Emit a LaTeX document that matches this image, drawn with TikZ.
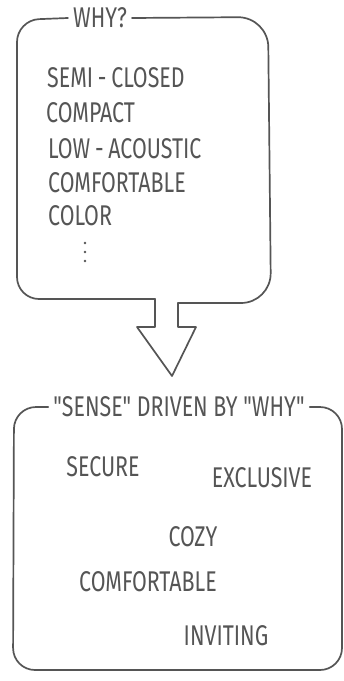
\documentclass[tikz,border=0pt]{standalone}
\usepackage{fontspec}
\newfontfamily\handfont[FakeStretch=0.75]{Fira Sans}
\definecolor{pencil}{HTML}{555555}
\begin{document}
\begin{tikzpicture}[x=1pt, y=-1pt, line join=round, line cap=round,
    pencil line/.style={draw=pencil, line width=1.7pt, rounded corners=22pt},
    word/.style={text=pencil, font=\handfont\fontsize{28.5}{28.5}\selectfont, inner sep=1pt},
    title/.style={word, inner sep=5pt}]
    \useasboundingbox[fill=white] (0,0) rectangle (344,681);

    % why box
    \node[title] (why) at (100,18) {WHY?};
    \node[word, anchor=base west] (semi) at (46,87) {SEMI\,-\,CLOSED};
    \node[word, anchor=base west] (compact) at (45,122) {COMPACT};
    \node[word, anchor=base west] (low) at (47,158) {LOW\,-\,ACOUSTIC};
    \node[word, anchor=base west] (comfy) at (47,192) {COMFORTABLE};
    \node[word, anchor=base west] (color) at (47,225) {COLOR};
    \foreach \y in {243,252,261}
        \fill[pencil] (85,\y) circle (1.3pt);

    \draw[pencil line] (why.west) -- (17,20) -- (17,299) -- (155,299);
    \draw[pencil line, rounded corners=30pt] (why.east) -- (268,17) -- (271,303) -- (178,303);
    \draw[pencil line, sharp corners] (155,299) -- (155,327) -- (137,327) -- (172,376)
        -- (196,327) -- (178,327) -- (178,303);

    % sense box
    \node[title] (sense) at (179,407) {"SENSE" DRIVEN BY "WHY"};
    \node[word] (secure) at (103,467) {SECURE};
    \node[word] (exclusive) at (262,478) {EXCLUSIVE};
    \node[word] (cozy) at (193,537) {COZY};
    \node[word] (comfortable) at (148,582) {COMFORTABLE};
    \node[word] (inviting) at (226,636) {INVITING};

    \draw[pencil line] (sense.west) -- (14,407) -- (13,670) -- (342,670) -- (342,407) -- (sense.east);
\end{tikzpicture}
\end{document}
